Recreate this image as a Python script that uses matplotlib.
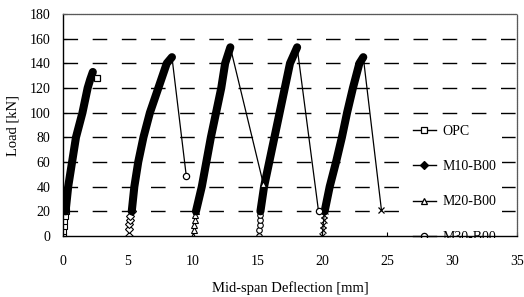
import matplotlib
matplotlib.use("Agg")
import matplotlib.pyplot as plt
from matplotlib.patches import Rectangle
from matplotlib.lines import Line2D

plt.rcParams['font.family'] = ['Liberation Serif', 'DejaVu Serif']

# ---- data ----
opc_x = [0.0, 0.03, 0.06, 0.10, 0.15, 0.20, 0.40, 0.70, 1.00, 1.50, 1.90, 2.10, 2.30, 2.60]
opc_y = [0, 4, 8, 12, 16, 20, 40, 60, 80, 100, 120, 127, 133, 128]

m10_x = [5.05, 5.08, 5.12, 5.15, 5.20, 5.30, 5.50, 5.80, 6.20, 6.70, 7.35, 8.00, 8.40, 9.50]
m10_y = [0, 6, 10, 13, 16, 20, 40, 60, 80, 100, 120, 140, 145, 49]

m20_x = [10.05, 10.08, 10.10, 10.15, 10.20, 10.25, 10.70, 11.05, 11.40, 11.80, 12.20, 12.50, 12.90, 15.45]
m20_y = [0, 5, 9, 13, 17, 20, 40, 60, 80, 100, 120, 140, 153, 42]

m30_x = [15.10, 15.12, 15.15, 15.18, 15.20, 15.22, 15.50, 15.90, 16.30, 16.70, 17.10, 17.50, 18.05, 19.70]
m30_y = [0, 5, 9, 13, 17, 20, 40, 60, 80, 100, 120, 140, 153, 20]

m40_x = [20.00, 20.03, 20.06, 20.10, 20.13, 20.17, 20.56, 21.05, 21.50, 21.90, 22.35, 22.85, 23.15, 24.55]
m40_y = [0, 5, 9, 13, 17, 20, 40, 60, 80, 100, 120, 140, 145, 21]

labels = ['OPC', 'M10-B00', 'M20-B00', 'M30-B00', None]
markers = ['s', 'D', '^', 'o', 'x']
end_markers = ['s', 'o', '^', 'o', 'x']
x_ticks = [0, 5, 10, 15, 20, 25, 30, 35]
y_ticks = [0, 20, 40, 60, 80, 100, 120, 140, 160, 180]

series = [(opc_x, opc_y), (m10_x, m10_y), (m20_x, m20_y), (m30_x, m30_y), (m40_x, m40_y)]

fig = plt.figure(figsize=(5.24, 2.97), dpi=100)
ax = fig.add_axes([63/524, (297-236)/297, 454/524, 222/297])

for (xs, ys), mk, emk in zip(series, markers, end_markers):
    ipk = ys.index(max(ys))
    i20 = next(i for i, v in enumerate(ys) if v >= 18)
    # initial sparse points
    ax.plot(xs[:i20+1], ys[:i20+1], color='black', lw=0.8, marker=mk,
            ms=4, mfc='white', mec='black', mew=0.8, zorder=3)
    # dense loading branch (thick band)
    ax.plot(xs[i20:ipk+1], ys[i20:ipk+1], color='black', lw=5.8,
            solid_capstyle='round', solid_joinstyle='round', zorder=3)
    # post-peak drop
    ax.plot(xs[ipk:], ys[ipk:], color='black', lw=0.9, zorder=3)
    ax.plot(xs[-1:], ys[-1:], ls='none', marker=emk, ms=4.5, mfc='white',
            mec='black', mew=0.9, zorder=4)

ax.set_xlim(0, 35)
ax.set_ylim(0, 180)
ax.set_xticks(x_ticks)
ax.set_yticks(y_ticks)
ax.tick_params(axis='both', direction='in', length=3, width=0.8, labelsize=10, colors='black')
ax.tick_params(axis='x', pad=14)
ax.tick_params(axis='y', pad=9)

for v in y_ticks[1:-1]:
    ax.axhline(v, color='black', lw=1.0, dashes=(10.5, 10.5), zorder=1)

for s in ['left', 'bottom']:
    ax.spines[s].set_color('black')
    ax.spines[s].set_linewidth(1.0)
for s in ['top', 'right']:
    ax.spines[s].set_color('0.35')
    ax.spines[s].set_linewidth(0.9)
    ax.spines[s].set_linestyle((0, (1, 0.6)))
for s in ax.spines.values():
    s.set_zorder(10)

ax.set_xlabel('Mid-span Deflection [mm]', fontsize=10.5)
ax.set_ylabel('Load [kN]', fontsize=10.5)
ax.xaxis.set_label_coords(0.5, -0.203)
ax.yaxis.set_label_coords(-0.095, 0.5)

handles = []
for lab, mk in zip(labels, markers):
    if lab is None:
        continue
    handles.append(Line2D([0], [0], color='black', lw=1.0, marker=mk, ms=4.5,
                          mfc=('black' if mk == 'D' else 'white'), mec='black', mew=0.9,
                          label=lab))
leg = ax.legend(handles=handles, loc='upper left', bbox_to_anchor=(0.758, 0.525),
                borderaxespad=0, frameon=True, fancybox=False, facecolor='white',
                edgecolor='none', framealpha=1, fontsize=10, labelspacing=1.6,
                handlelength=1.65, handletextpad=0.5, borderpad=0.4)
leg.set_zorder(5)

# legend is cut by the plot-area border
fig.add_artist(Rectangle((400/524, (297-250)/297), 124/524, 12.5/297,
                         transform=fig.transFigure, facecolor='white',
                         edgecolor='none', zorder=20))

fig.savefig('out.png', dpi=100)
